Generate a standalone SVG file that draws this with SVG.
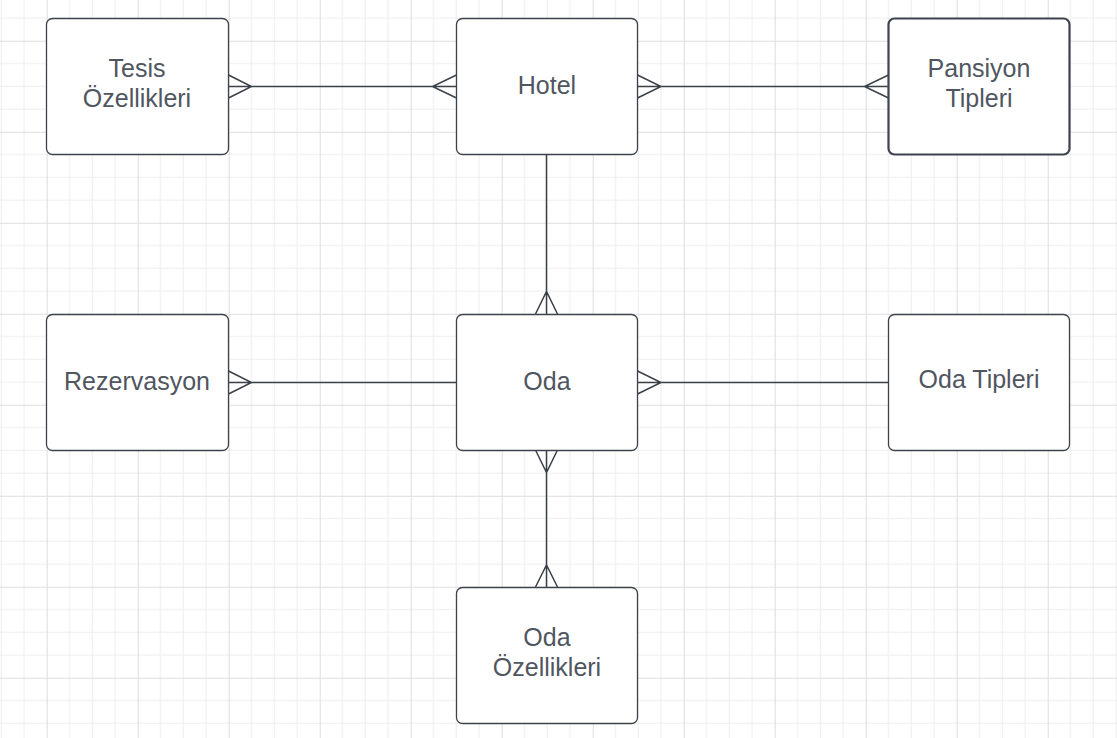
<svg xmlns="http://www.w3.org/2000/svg" width="1117" height="738" viewBox="0 0 1117 738">
<style>
.box{fill:#ffffff;stroke:#3d434c;stroke-width:1.3}
.sel{stroke-width:2.2}
.lbl{font-family:"Liberation Sans",Arial,sans-serif;font-size:25px;fill:#50565f;text-anchor:middle}
.con{fill:none;stroke:#3a4049;stroke-width:1.5}
</style>
<defs>
<pattern id="grid" patternUnits="userSpaceOnUse" x="46.7" y="40.75" width="91" height="91">
<path d="M22.75 0V91M45.5 0V91M68.25 0V91M0 22.75H91M0 45.5H91M0 68.25H91" stroke="#ededed" stroke-width="1" fill="none"/>
<path d="M0.5 0V91M0 0.5H91" stroke="#dddddd" stroke-width="1" fill="none"/>
</pattern>
</defs>
<rect x="0" y="0" width="1117" height="738" fill="#ffffff"/>
<rect x="0" y="0" width="1117" height="738" fill="url(#grid)"/>
<g id="connectors">
<path class="con" d="M228.5 86.5H456.5M228.5 75L251.5 86.5L228.5 98M456.5 75L432.5 86.5L456.5 98"/>
<path class="con" d="M637.5 86.5H888.5M637.5 75L661 86.5L637.5 98M888.5 75L864.5 86.5L888.5 98"/>
<path class="con" d="M546.5 155V314M535.5 314L546.5 291.5L557.5 314"/>
<path class="con" d="M228.5 382.5H456.5M228.5 371L251.5 382.5L228.5 394"/>
<path class="con" d="M637.5 382.5H888.5M637.5 371L661 382.5L637.5 394"/>
<path class="con" d="M546.5 450V587M535.5 450L546.5 472.5L557.5 450M535.5 587L546.5 565L557.5 587"/>
</g>
<g id="tesis"><rect class="box" x="46.5" y="18.5" width="182" height="136" rx="6"/><text class="lbl" x="137" y="77">Tesis</text><text class="lbl" x="137" y="107">Özellikleri</text></g>
<g id="hotel"><rect class="box" x="456.5" y="18.5" width="181" height="136" rx="6"/><text class="lbl" x="547" y="94">Hotel</text></g>
<g id="pansiyon"><rect class="box sel" x="888.5" y="18.5" width="181" height="136" rx="6"/><text class="lbl" x="979" y="77">Pansiyon</text><text class="lbl" x="979" y="107">Tipleri</text></g>
<g id="rezervasyon"><rect class="box" x="46.5" y="314.5" width="182" height="136" rx="6"/><text class="lbl" x="137" y="390">Rezervasyon</text></g>
<g id="oda"><rect class="box" x="456.5" y="314.5" width="181" height="136" rx="6"/><text class="lbl" x="547" y="390">Oda</text></g>
<g id="oda-tipleri"><rect class="box" x="888.5" y="314.5" width="181" height="136" rx="6"/><text class="lbl" x="979" y="388">Oda Tipleri</text></g>
<g id="oda-ozellikleri"><rect class="box" x="456.5" y="587.5" width="181" height="136" rx="6"/><text class="lbl" x="547" y="645.5">Oda</text><text class="lbl" x="547" y="675.5">Özellikleri</text></g>
</svg>
